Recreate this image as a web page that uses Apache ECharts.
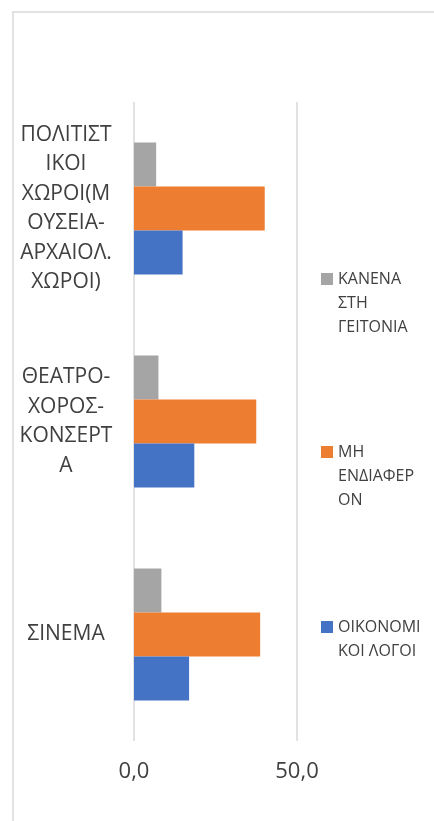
<!DOCTYPE html>
<html>
<head>
<meta charset="utf-8">
<script src="https://cdn.jsdelivr.net/npm/echarts@6/dist/echarts.min.js"></script>
<style>
  html, body { margin: 0; padding: 0; background: #fff; overflow: hidden; }
  #chart { width: 434px; height: 821px; }
</style>
</head>
<body>
<div id="chart"></div>
<script>
// categories bottom -> top, wrapped like the original
var categories = ['ΣΙΝΕΜΑ', 'ΘΕΑΤΡΟ-\nΧΟΡΟΣ-\nΚΟΝΣΕΡΤ\nΑ', 'ΠΟΛΙΤΙΣΤ\nΙΚΟΙ\nΧΩΡΟΙ(Μ\nΟΥΣΕΙΑ-\nΑΡΧΑΙΟΛ.\nΧΩΡΟΙ)'];
var oikonomikoi = [16.9, 18.5, 14.9];
var endiaferon = [38.7, 37.5, 40.1];
var kanena = [8.4, 7.5, 6.8];
var seriesNames = ['ΟΙΚΟΝΟΜΙΚΟΙ ΛΟΓΟΙ', 'ΜΗ ΕΝΔΙΑΦΕΡΟΝ', 'ΚΑΝΕΝΑ ΣΤΗ ΓΕΙΤΟΝΙΑ'];
var legendWrapped = {
  'ΟΙΚΟΝΟΜΙΚΟΙ ΛΟΓΟΙ': ['ΟΙΚΟΝΟΜΙ', 'ΚΟΙ ΛΟΓΟΙ'],
  'ΜΗ ΕΝΔΙΑΦΕΡΟΝ': ['ΜΗ', 'ΕΝΔΙΑΦΕΡ', 'ΟΝ'],
  'ΚΑΝΕΝΑ ΣΤΗ ΓΕΙΤΟΝΙΑ': ['ΚΑΝΕΝΑ', 'ΣΤΗ', 'ΓΕΙΤΟΝΙΑ']
};
var xTicks = [0, 50];

var chart = echarts.init(document.getElementById('chart'));
var font = 'Open Sans';

// blank lines on top so that the first line sits beside the square
function wrapLegend(n) {
  var lines = legendWrapped[n];
  var pad = [];
  for (var i = 1; i < lines.length; i++) pad.push('');
  return pad.concat(lines).join('\n');
}

function legendFor(name, top) {
  return {
    data: [name],
    orient: 'vertical',
    left: 321,
    top: top,
    padding: 0,
    itemWidth: 12,
    itemHeight: 12,
    itemGap: 0,
    icon: 'rect',
    formatter: wrapLegend,
    textStyle: {
      fontFamily: font,
      fontSize: 16,
      color: '#404040',
      lineHeight: 24
    }
  };
}

var option = {
  animation: false,
  graphic: [{
    type: 'rect',
    shape: { x: 13, y: 12, width: 600, height: 900 },
    style: { fill: 'none', stroke: '#d9d9d9', lineWidth: 1.5 },
    silent: true
  }],
  legend: [
    legendFor(seriesNames[2], 219),
    legendFor(seriesNames[1], 392),
    legendFor(seriesNames[0], 591)
  ],
  grid: { left: 134, right: 137, top: 102, bottom: 80 },
  xAxis: {
    type: 'value',
    min: xTicks[0],
    max: xTicks[1],
    interval: 50,
    axisLine: { show: false },
    axisTick: { show: false },
    splitLine: { show: true, lineStyle: { color: '#d9d9d9', width: 1.5 } },
    axisLabel: {
      fontFamily: font,
      fontSize: 22,
      color: '#404040',
      margin: 20,
      formatter: function (v) { return v.toFixed(1).replace('.', ','); }
    }
  },
  yAxis: {
    type: 'category',
    data: categories,
    axisLine: { show: false },
    axisTick: { show: false },
    axisLabel: {
      fontFamily: font,
      fontSize: 21,
      color: '#404040',
      lineHeight: 29.5,
      align: 'center',
      margin: 68
    }
  },
  // ECharts stacks the first series on top inside a band, so gray goes first
  series: [
    { name: seriesNames[2], type: 'bar', data: kanena, barWidth: 44, barGap: '0%',
      itemStyle: { color: '#A5A5A5' } },
    { name: seriesNames[1], type: 'bar', data: endiaferon, barWidth: 44, barGap: '0%',
      itemStyle: { color: '#ED7D31' } },
    { name: seriesNames[0], type: 'bar', data: oikonomikoi, barWidth: 44, barGap: '0%',
      itemStyle: { color: '#4472C4' } }
  ]
};

chart.setOption(option);
</script>
</body>
</html>
